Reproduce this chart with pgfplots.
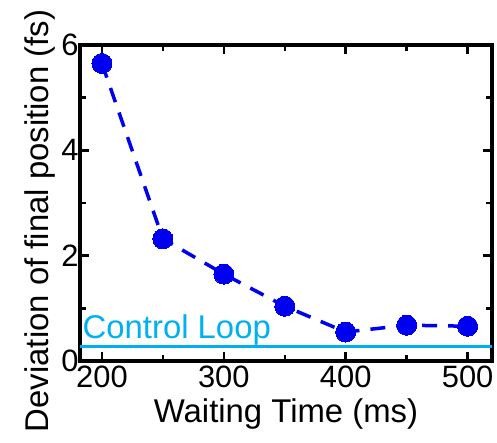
\documentclass[border=0pt]{standalone}
\usepackage{pgfplots}
\pgfplotsset{compat=1.18}
\usepackage{fontspec}
\setmainfont{Liberation Sans}
\definecolor{dotblue}{RGB}{0,0,240}
\definecolor{ctrlcyan}{RGB}{0,176,240}
\begin{document}
\begin{tikzpicture}
\begin{axis}[
  scale only axis,
  width=412bp, height=316bp,
  xmin=182, xmax=520, ymin=0, ymax=6,
  xtick={200,300,400,500},
  minor xtick={250,350,450},
  ytick={0,2,4,6},
  minor ytick={1,3,5},
  tick align=inside,
  major tick length=9bp,
  minor tick length=6bp,
  every tick/.style={black, line width=2.5bp},
  axis line style={line width=3.5bp},
  /pgf/number format/assume math mode=true,
  ticklabel style={font=\fontsize{31}{36}\selectfont},
  xticklabel style={yshift=-1bp},
  yticklabel style={xshift=2bp},
  label style={font=\fontsize{33}{39}\selectfont},
  xlabel={Waiting Time (ms)},
  ylabel={Deviation of final position (fs)},
  xlabel style={yshift=-4bp},
  ylabel style={at={(ticklabel cs:0.443)}, yshift=-1bp},
  clip=false,
]
\addplot[ctrlcyan, line width=3bp] coordinates {(182,0.28) (520,0.28)};
\node[anchor=base west, inner sep=0, text=ctrlcyan, font=\fontsize{33}{39}\selectfont] at (axis cs:184,0.42) {Control Loop};
\addplot[dotblue, line width=3.5bp, dash pattern=on 15bp off 11bp,
  mark=*, mark size=10bp, mark options={solid, fill=dotblue, draw=dotblue, line width=0pt}]
  coordinates {
  (200,5.65) (250,2.32) (300,1.65) (350,1.04) (400,0.55) (450,0.68) (500,0.66)
  };
\end{axis}
\pgfresetboundingbox
\path[use as bounding box] (-80bp,-82bp) rectangle (417bp,361bp);
\end{tikzpicture}
\end{document}
